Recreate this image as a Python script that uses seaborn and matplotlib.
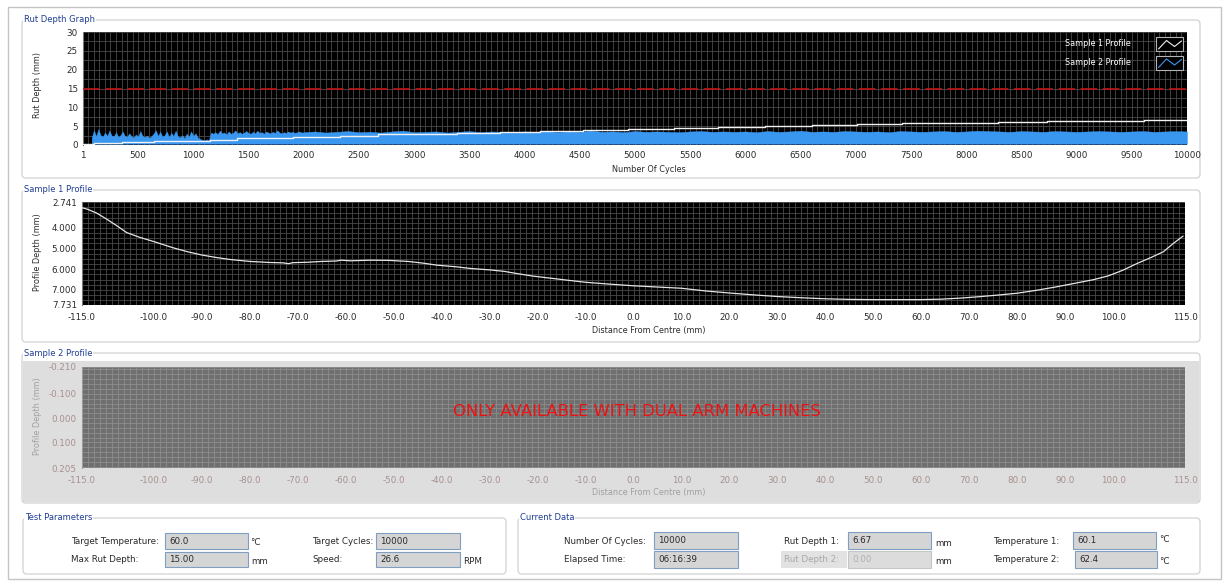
import numpy as np
import pandas as pd
import matplotlib
matplotlib.use("Agg")
import matplotlib.pyplot as plt
from matplotlib.patches import FancyBboxPatch, Rectangle
from matplotlib.ticker import MultipleLocator, FixedLocator, FixedFormatter, FormatStrFormatter
import seaborn as sns

# ---------------- test parameters / current readings ----------------
TARGET_TEMPERATURE = 60.0
MAX_RUT_DEPTH = 15.00
TARGET_CYCLES = 10000
SPEED_RPM = 26.6
NUMBER_OF_CYCLES = 10000
ELAPSED_TIME = "06:16:39"
RUT_DEPTH_2 = 0.00
TEMPERATURE_1 = 60.1
TEMPERATURE_2 = 62.4

# ---------------- rut depth history ----------------
# Sample 1: stepped rut depth (mm) at the cycle where each step starts
rut1_cycles = [1, 100, 350, 640, 1150, 1400, 1900, 2330, 2670, 3390, 3780, 4140,
               4530, 4940, 5350, 5750, 6180, 6600, 7010, 7420, 7840, 8290, 8730,
               9180, 9610, 10000]
rut1_depth = [0.3, 0.6, 0.9, 1.1, 1.4, 1.8, 2.1, 2.4, 2.8, 3.2, 3.45, 3.7,
              3.95, 4.25, 4.5, 4.75, 5.05, 5.3, 5.55, 5.75, 5.95, 6.15, 6.35,
              6.5, 6.67, 6.67]

# Sample 2: noisy trace envelope, every 20 cycles from 80 to 1980 ...
rut2_early = [2.0, 3.9, 2.3, 4.2, 2.6, 2.2, 3.3, 2.4, 3.8, 2.5, 2.3, 3.4, 2.1, 2.6,
              3.6, 2.4, 2.2, 3.1, 2.3, 2.0, 2.8, 2.2, 3.7, 2.4, 2.1, 2.5, 1.9, 2.3,
              3.0, 3.9, 2.4, 3.5, 2.2, 2.6, 3.6, 2.1, 3.2, 2.4, 3.8, 2.3, 2.0, 2.6,
              1.8, 3.0, 2.2, 3.6, 2.4, 3.1, 2.0, 1.6, 1.4, 1.2, 1.5, 1.3, 3.3, 3.0,
              3.4, 2.9, 3.8, 3.1, 3.3, 2.8, 3.6, 3.0, 3.2, 3.9, 3.1, 3.4, 3.0, 3.3,
              3.7, 3.2, 3.0, 3.5, 3.1, 3.8, 3.2, 3.4, 3.0, 3.6, 3.3, 3.1, 3.5, 3.2,
              3.9, 3.3, 3.1, 3.4, 3.2, 3.6, 3.3, 3.5, 3.2, 3.4, 3.6, 3.3]
# ... then every 100 cycles from 2000 to 10000
rut2_late = [3.4, 3.6, 3.3, 3.5, 3.7, 3.4, 3.5, 3.3, 3.6, 3.8, 3.4, 3.5, 3.6, 3.3,
             3.5, 3.7, 3.4, 3.6, 3.5, 3.4,
             3.6, 3.5, 3.7, 3.4, 3.6, 3.5, 3.8, 3.5, 3.6, 3.4, 3.7, 3.5, 3.6, 3.5,
             3.4, 3.6, 3.7, 3.5, 3.6, 3.5,
             3.6, 3.4, 3.7, 3.5, 3.6, 3.8, 3.5, 3.6, 3.5, 3.7, 3.6, 3.5, 3.6, 3.4,
             3.7, 3.6, 3.5, 3.6, 3.7, 3.5,
             3.6, 3.8, 3.7, 3.6, 3.5, 3.7, 3.6, 3.5, 3.7, 3.6, 3.5, 3.6, 3.7, 3.6,
             3.5, 3.6, 3.7, 3.5, 3.6, 3.7, 3.6]
RUT2_FLOOR = 0.35

# ---------------- sample 1 transverse profile ----------------
profile_dist = [-115.0, -114.0, -112.0, -110.0, -108.0, -105.7, -103.0, -100.0, -96.0,
                -93.0, -90.0, -87.0, -84.0, -80.0, -76.0, -73.0, -72.0, -71.0, -68.0,
                -65.0, -62.0, -61.0, -59.0, -55.0, -51.0, -47.0, -44.0, -41.0, -37.0,
                -34.0, -30.0, -27.0, -24.0, -21.0, -17.0, -13.0, -10.0, -5.0, 0.0,
                5.0, 10.0, 15.0, 20.0, 25.0, 30.0, 35.0, 40.0, 45.0, 50.0, 55.0, 60.0,
                64.0, 68.0, 72.0, 76.0, 80.0, 84.0, 88.0, 92.0, 96.0, 99.0, 102.0,
                105.0, 108.0, 110.5, 112.5, 114.6]
profile_depth = [3.02, 3.08, 3.27, 3.55, 3.85, 4.22, 4.45, 4.66, 4.96,
                 5.15, 5.31, 5.43, 5.53, 5.62, 5.67, 5.69, 5.73, 5.68, 5.66,
                 5.62, 5.60, 5.56, 5.59, 5.56, 5.57, 5.62, 5.70, 5.80, 5.88,
                 5.96, 6.03, 6.10, 6.22, 6.33, 6.44, 6.55, 6.63, 6.72, 6.80,
                 6.86, 6.92, 7.05, 7.15, 7.24, 7.32, 7.38, 7.43, 7.46, 7.47, 7.47, 7.47,
                 7.45, 7.40, 7.33, 7.25, 7.16, 7.02, 6.86, 6.68, 6.50, 6.32, 6.05,
                 5.72, 5.42, 5.15, 4.76, 4.39]

# axis tick values
cycle_ticks = [1] + list(range(500, 10001, 500))
rut_ticks = [0, 5, 10, 15, 20, 25, 30]
dist_ticks = [-115, -110, -100, -90, -80, -70, -60, -50, -40, -30, -20, -10,
              0, 10, 20, 30, 40, 50, 60, 70, 80, 90, 100, 110, 115]
dist_unlabelled = [-110, 110]
p1_ticks = [2.741, 4.0, 5.0, 6.0, 7.0, 7.731]
p2_ticks = [-0.210, -0.100, 0.000, 0.100, 0.205]

rut1 = pd.DataFrame({"cycles": rut1_cycles, "depth": rut1_depth})
rut2_cycles = np.concatenate([np.arange(80, 2000, 20), np.arange(2000, 10001, 100)])
rut2 = pd.DataFrame({"cycles": rut2_cycles, "depth": rut2_early + rut2_late})
prof1 = pd.DataFrame({"dist": profile_dist, "depth": profile_depth})

# ---------------- figure ----------------
sns.set_style("white")
plt.rcParams["font.family"] = ["DejaVu Sans"]
W, H = 1223, 581
fig = plt.figure(figsize=(W / 100, H / 100), dpi=100)
fig.patch.set_facecolor("white")

TITLE_BLUE = "#1f3d93"
TXT = "#2a2a2a"
FS = 6.3

bg = fig.add_axes([0, 0, 1, 1], zorder=-5)
bg.set_xlim(0, W)
bg.set_ylim(H, 0)
bg.axis("off")

top = fig.add_axes([0, 0, 1, 1], zorder=10)
top.set_xlim(0, W)
top.set_ylim(H, 0)
top.axis("off")
top.patch.set_alpha(0)

# outer frame
bg.add_patch(Rectangle((8, 7), 1213, 572, facecolor="white", edgecolor="#c4c4c4", lw=1.0))


def group_box(x0, y0, x1, y1, title, fill="white"):
    bg.add_patch(FancyBboxPatch((x0, y0), x1 - x0, y1 - y0,
                                boxstyle="round,pad=0,rounding_size=4",
                                facecolor=fill, edgecolor="#d2d2d2", lw=0.9))
    bg.text(x0 + 2, y0, title, ha="left", va="center", fontsize=6.0, color=TITLE_BLUE,
            bbox=dict(facecolor="white", edgecolor="none", pad=0.6))


group_box(22, 20, 1200, 178, "Rut Depth Graph")
group_box(22, 190, 1200, 342, "Sample 1 Profile")
group_box(22, 353, 1200, 503, "Sample 2 Profile")
bg.add_patch(Rectangle((23, 361), 1176, 141, facecolor="#dedede", edgecolor="none"))
group_box(23, 518, 506, 574, "Test Parameters")
group_box(518, 518, 1200, 574, "Current Data")


def px_axes(x0, y0, x1, y1):
    return fig.add_axes([x0 / W, 1 - y1 / H, (x1 - x0) / W, (y1 - y0) / H])


def style_axes(ax, face, grid_col, tick_col, label_col, xlen, ylen, xpad, ypad):
    ax.set_facecolor(face)
    for s in ["top", "right", "bottom"]:
        ax.spines[s].set_visible(False)
    ax.spines["left"].set_color(tick_col)
    ax.spines["left"].set_linewidth(0.8)
    ax.tick_params(axis="x", which="major", length=xlen, width=0.8, color=tick_col,
                   labelsize=FS, labelcolor=label_col, pad=xpad, direction="out")
    ax.tick_params(axis="y", which="major", length=ylen, width=0.8, color=tick_col,
                   labelsize=FS, labelcolor=label_col, pad=ypad, direction="out")
    ax.tick_params(axis="x", which="minor", length=0)
    ax.tick_params(axis="y", which="minor", length=2, width=0.6, color=tick_col)
    ax.grid(True, which="both", color=grid_col, linewidth=0.6)
    ax.set_axisbelow(True)
    ax.set_xlabel("")
    ax.set_ylabel("")


# ---- rut depth graph ----
ax1 = px_axes(83, 32, 1187, 145)
style_axes(ax1, "black", "#4a4a4a", "#7a7a7a", TXT, 3, 3, 1.2, 0.8)
ax1.fill_between(rut2["cycles"], RUT2_FLOOR, rut2["depth"], color="#3a97f0",
                 linewidth=0.3, edgecolor="#3a97f0", zorder=2)
ax1.axhline(MAX_RUT_DEPTH, color="#c01616", lw=1.2, dashes=(10, 3.3), zorder=3)
sns.lineplot(data=rut1, x="cycles", y="depth", ax=ax1, color="#f2f2f2", lw=1.0,
             drawstyle="steps-post", estimator=None, zorder=4)
ax1.set_xlim(1, TARGET_CYCLES)
ax1.set_ylim(0, 30)
ax1.xaxis.set_major_locator(FixedLocator(cycle_ticks))
ax1.xaxis.set_major_formatter(FixedFormatter([str(t) for t in cycle_ticks]))
ax1.xaxis.set_minor_locator(MultipleLocator(50))
ax1.yaxis.set_major_locator(FixedLocator(rut_ticks))
ax1.yaxis.set_minor_locator(MultipleLocator(2.5))
ax1.set_xlabel("")
ax1.set_ylabel("")
top.text(649, 170, "Number Of Cycles", ha="center", va="center", fontsize=5.9, color=TXT)
top.text(38, 85, "Rut Depth (mm)", ha="center", va="center", rotation=90, fontsize=5.9, color=TXT)

# legend of the rut graph
for i, (lab, col) in enumerate([("Sample 1 Profile", "#f2f2f2"), ("Sample 2 Profile", "#3a97f0")]):
    yc = 44 + i * 18.5
    top.text(1131, yc, lab, ha="right", va="center", fontsize=5.8, color="white")
    top.add_patch(Rectangle((1156, yc - 7), 27, 14, facecolor="black", edgecolor="#b4b4b4", lw=0.8))
    top.plot([1158.5, 1166.5, 1174.5, 1181.5], [yc + 5, yc - 3.5, yc + 2.5, yc - 3], color=col, lw=0.8)

# ---- sample 1 profile ----
ax2 = px_axes(82, 202, 1185, 305)
style_axes(ax2, "black", "#4a4a4a", "#7a7a7a", TXT, 4.3, 3, 1.8, 0.8)
sns.lineplot(data=prof1, x="dist", y="depth", ax=ax2, color="#e6e6e6", lw=0.9,
             estimator=None, sort=False, zorder=3)
ax2.set_xlim(-115, 115)
ax2.set_ylim(p1_ticks[-1], p1_ticks[0])
ax2.xaxis.set_major_locator(FixedLocator(dist_ticks))
ax2.xaxis.set_major_formatter(FixedFormatter(["" if t in dist_unlabelled else f"{t:.1f}" for t in dist_ticks]))
ax2.xaxis.set_minor_locator(MultipleLocator(1.25))
ax2.yaxis.set_major_locator(FixedLocator(p1_ticks))
ax2.yaxis.set_major_formatter(FormatStrFormatter("%.3f"))
ax2.yaxis.set_minor_locator(MultipleLocator(0.25))
ax2.set_xlabel("")
ax2.set_ylabel("")
top.text(649, 331, "Distance From Centre (mm)", ha="center", va="center", fontsize=5.9, color=TXT)
top.text(37, 252, "Profile Depth (mm)", ha="center", va="center", rotation=90, fontsize=5.9, color=TXT)

# ---- sample 2 profile (disabled on single arm machines) ----
DIS = "#a88f8f"
ax3 = px_axes(82, 367, 1185, 468)
style_axes(ax3, "#6f6f6f", "#8d8d8d", "#9a9a9a", DIS, 4.3, 3, 1.8, 0.8)
ax3.set_xlim(-115, 115)
ax3.set_ylim(p2_ticks[-1], p2_ticks[0])
ax3.xaxis.set_major_locator(FixedLocator(dist_ticks))
ax3.xaxis.set_major_formatter(FixedFormatter(["" if t in dist_unlabelled else f"{t:.1f}" for t in dist_ticks]))
ax3.xaxis.set_minor_locator(MultipleLocator(1.25))
ax3.yaxis.set_major_locator(FixedLocator(p2_ticks))
ax3.yaxis.set_major_formatter(FormatStrFormatter("%.3f"))
ax3.yaxis.set_minor_locator(MultipleLocator(0.02))
top.text(649, 493, "Distance From Centre (mm)", ha="center", va="center", fontsize=5.9, color="#a0a0a0")
top.text(37, 416, "Profile Depth (mm)", ha="center", va="center", rotation=90, fontsize=5.9, color="#a0a0a0")
top.text(637, 412, "ONLY AVAILABLE WITH DUAL ARM MACHINES", ha="center", va="center",
         fontsize=11.8, color="#ee1111")


# ---- numeric indicators ----
def indicator(x0, y0, x1, y1, value, enabled=True):
    bg.add_patch(Rectangle((x0, y0), x1 - x0, y1 - y0,
                           facecolor="#d5d5d5" if enabled else "#dcdcdc",
                           edgecolor="#7f9fc2" if enabled else "#c6c6c6", lw=0.8))
    bg.text(x0 + 4, (y0 + y1) / 2, value, ha="left", va="center", fontsize=FS,
            color=TXT if enabled else "#b0b0b0")


def label(x, y, s, color=TXT):
    bg.text(x, y, s, ha="left", va="center", fontsize=FS, color=color)


label(71, 541.5, "Target Temperature:")
indicator(165, 533, 248, 549, f"{TARGET_TEMPERATURE:.1f}")
label(250, 542.5, "°C")
label(71, 560, "Max Rut Depth:")
indicator(165, 552, 248, 567, f"{MAX_RUT_DEPTH:.2f}")
label(251, 562, "mm")
label(312, 541.5, "Target Cycles:")
indicator(376, 533, 460, 549, f"{TARGET_CYCLES}")
label(312, 560, "Speed:")
indicator(376, 552, 460, 567, f"{SPEED_RPM:.1f}")
label(463, 562, "RPM")

label(564, 541, "Number Of Cycles:")
indicator(654, 532, 738, 549, f"{NUMBER_OF_CYCLES}")
label(564, 559.5, "Elapsed Time:")
indicator(654, 551, 738, 568, ELAPSED_TIME)
label(784, 541, "Rut Depth 1:")
indicator(848, 532, 931, 549, f"{rut1_depth[-1]:.2f}")
label(935, 544, "mm")
bg.add_patch(Rectangle((781, 551), 66, 17, facecolor="#e2e2e2", edgecolor="none"))
label(784, 559.5, "Rut Depth 2:", color="#a8a8a8")
indicator(848, 551, 931, 568, f"{RUT_DEPTH_2:.2f}", enabled=False)
label(935, 562, "mm")
label(993, 541, "Temperature 1:")
indicator(1073, 532, 1156, 549, f"{TEMPERATURE_1:.1f}")
label(1159, 539, "°C")
label(993, 559.5, "Temperature 2:")
indicator(1075, 551, 1157, 568, f"{TEMPERATURE_2:.1f}")
label(1159, 562, "°C")

fig.savefig("out.png", dpi=100, facecolor="white")
